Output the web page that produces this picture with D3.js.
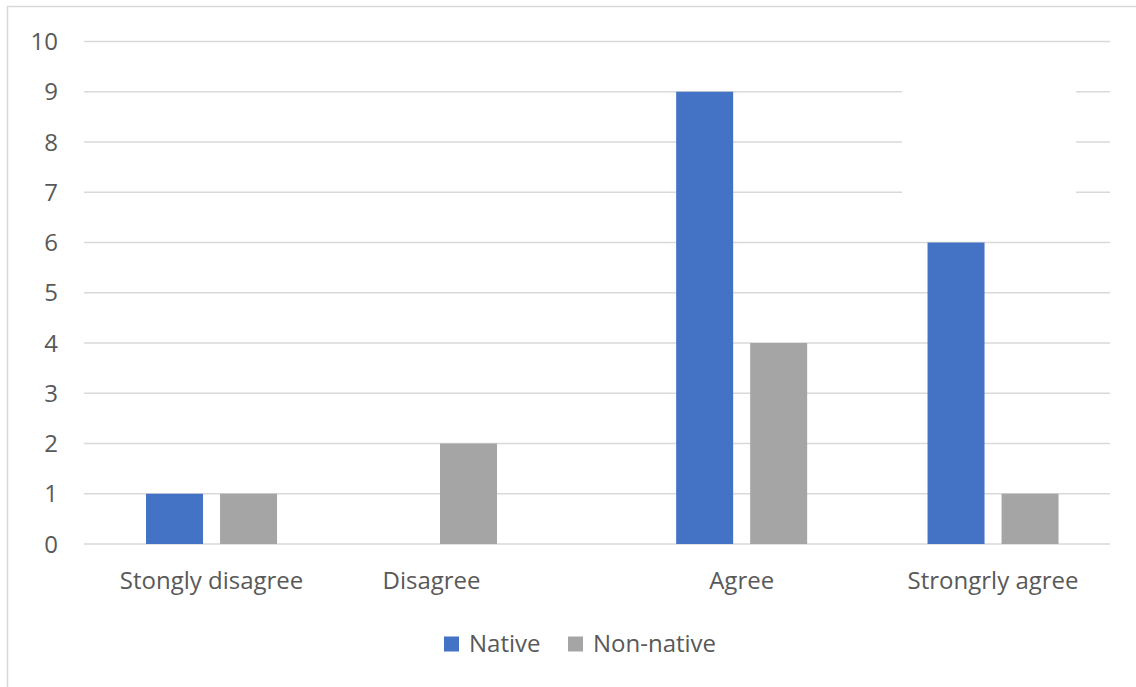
<!DOCTYPE html>
<html>
<head>
<meta charset="utf-8">
<script src="https://cdn.jsdelivr.net/npm/d3@7/dist/d3.min.js"></script>
<style>
  html, body { margin: 0; padding: 0; background: #fff; }
  svg { display: block; }
  text { font-family: "Open Sans", "Noto Sans", sans-serif; fill: #595959; }
</style>
</head>
<body>
<script>
// Survey responses by speaker group
const categories = ["Stongly disagree", "Disagree", "Agree", "Strongrly agree"];
const seriesNames = ["Native", "Non-native"];
const nativeValues = [1, 0, 9, 6];
const nonNativeValues = [1, 2, 4, 1];
const yTicks = [0, 1, 2, 3, 4, 5, 6, 7, 8, 9, 10];

const seriesColors = { "Native": "#4472C4", "Non-native": "#A5A5A5" };

const width = 1136, height = 687;
const plot = { left: 84, right: 1110, top: 41.5, bottom: 544 };
const fontSize = 24;

// horizontal placement of each category group, as a fraction of the plot width
const groupCenters = [0.1243, 0.3387, 0.6410, 0.8860];

const rows = categories.map((c, i) => ({
  category: c,
  values: [
    { series: "Native", value: nativeValues[i] },
    { series: "Non-native", value: nonNativeValues[i] }
  ]
}));

const svg = d3.select("body").append("svg")
  .attr("width", width).attr("height", height);

// chart frame
svg.append("rect")
  .attr("x", 7.5).attr("y", 6.5)
  .attr("width", width + 20).attr("height", height + 20)
  .attr("fill", "#fff").attr("stroke", "#d9d9d9").attr("stroke-width", 1.5);

const y = d3.scaleLinear().domain([0, 10]).range([plot.bottom, plot.top]);

const x = d3.scaleOrdinal()
  .domain(categories)
  .range(groupCenters.map(f => plot.left + f * (plot.right - plot.left)));

const inner = d3.scaleBand()
  .domain(seriesNames)
  .range([-65.5, 65.5])
  .paddingInner(0.23);

// gridlines
svg.append("g")
  .selectAll("line")
  .data(yTicks)
  .join("line")
  .attr("x1", plot.left).attr("x2", plot.right)
  .attr("y1", d => y(d)).attr("y2", d => y(d))
  .attr("stroke", "#d9d9d9").attr("stroke-width", 1.5);

// blank panel behind the upper right area
svg.append("rect")
  .attr("x", 902).attr("width", 1076 - 902)
  .attr("y", y(9.4)).attr("height", y(6.6) - y(9.4))
  .attr("fill", "#fff");

// y axis labels
const yAxis = d3.axisLeft(y).tickValues(yTicks).tickSize(0).tickPadding(0);
const yg = svg.append("g")
  .attr("transform", `translate(${plot.left - 26},0)`)
  .call(yAxis);
yg.select(".domain").remove();
yg.selectAll("text")
  .attr("font-size", fontSize)
  .attr("fill", "#595959")
  .attr("font-family", "\"Open Sans\", sans-serif")
  .attr("dy", "0.34em");

// bars
const groups = svg.append("g")
  .selectAll("g")
  .data(rows)
  .join("g")
  .attr("transform", d => `translate(${x(d.category)},0)`);

groups.selectAll("rect")
  .data(d => d.values)
  .join("rect")
  .attr("x", d => inner(d.series))
  .attr("width", inner.bandwidth())
  .attr("y", d => y(d.value))
  .attr("height", d => y(0) - y(d.value))
  .attr("fill", d => seriesColors[d.series]);

// category labels
svg.append("g")
  .selectAll("text")
  .data(categories)
  .join("text")
  .attr("x", d => x(d))
  .attr("y", 589)
  .attr("text-anchor", "middle")
  .attr("font-size", fontSize)
  .text(d => d);

// legend
const legend = svg.append("g").attr("transform", "translate(444,644)");
const legendOffsets = [0, 124];
const items = legend.selectAll("g")
  .data(seriesNames)
  .join("g")
  .attr("transform", (d, i) => `translate(${legendOffsets[i]},0)`);
items.append("rect")
  .attr("x", 0).attr("y", -7.5).attr("width", 15).attr("height", 15)
  .attr("fill", d => seriesColors[d]);
items.append("text")
  .attr("x", 25).attr("y", 0).attr("dy", "0.35em")
  .attr("font-size", fontSize)
  .text(d => d);
</script>
</body>
</html>
